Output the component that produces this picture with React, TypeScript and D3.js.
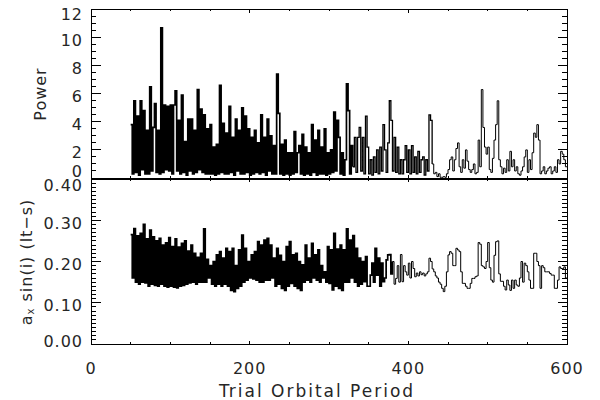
import React from 'react';
import * as d3 from 'd3';

// trial periods are on a regular grid: 50, 52, ... 598
const periodStart = 50;
const periodStep = 2;
const periodMax = 600;

// periodogram power, one value per trial period
const power = [
  3.8, 0.3, 5.5, 0.4, 4.4, 0.2, 5.5, 0.6, 4.8, 0.3,
  3.4, 0.3, 6.5, 0.5, 3.6, 5.3, 0.4, 3.4, 0.3, 10.7,
  0.4, 5.2, 0.6, 5.1, 0.5, 5.2, 0.3, 5.2, 6.2, 0.5,
  4.1, 0.3, 5.9, 0.4, 2.6, 0.2, 4.2, 0.5, 4.2, 0.3,
  3.4, 0.4, 6.3, 0.6, 4.9, 0.4, 4.5, 0.3, 3.5, 0.3,
  3.8, 0.3, 2.2, 0.2, 2.4, 0.3, 6.6, 0.4, 3.9, 0.3,
  3.2, 0.3, 5.1, 0.4, 2.9, 0.2, 4.2, 0.5, 3.4, 0.3,
  5.0, 0.3, 4.4, 0.4, 3.5, 0.2, 2.9, 0.3, 3.4, 0.4,
  2.5, 0.3, 4.5, 0.4, 2.9, 0.2, 4.2, 0.5, 3.0, 0.3,
  2.3, 0.3, 7.4, 4.6, 0.3, 2.4, 0.2, 2.7, 0.3, 1.8,
  0.2, 1.8, 0.3, 3.3, 0.4, 1.8, 2.3, 0.3, 3.1, 0.2,
  2.2, 0.3, 1.8, 0.2, 3.8, 0.4, 2.7, 0.2, 3.4, 0.3,
  2.2, 0.3, 3.5, 0.2, 1.8, 0.3, 2.0, 0.4, 4.7, 0.5,
  4.1, 2.9, 0.3, 1.8, 0.2, 1.3, 6.7, 4.8, 0.3, 2.3,
  0.8, 2.9, 0.4, 2.9, 3.6, 0.5, 2.9, 0.3, 4.4, 2.2,
  0.3, 1.3, 0.2, 1.5, 0.4, 2.0, 0.3, 2.2, 0.5, 3.8,
  2.0, 0.4, 2.5, 5.5, 4.1, 0.5, 2.9, 0.4, 2.2, 0.3,
  1.3, 0.3, 1.3, 2.3, 0.4, 2.0, 0.3, 2.3, 0.4, 1.5,
  0.3, 1.9, 0.4, 1.3, 1.5, 0.2, 1.3, 0.5, 4.5, 4.1,
  1.0, 0.3, 0.4, 0.1, 0.3, 0.05, 0.05, 0.1, 0.05, 0.3,
  0.6, 1.3, 1.5, 0.5, 1.3, 2.1, 2.5, 0.8, 0.4, 1.3,
  0.7, 2.0, 1.2, 0.6, 0.4, 0.6, 1.0, 0.3, 0.4, 2.7,
  0.8, 6.3, 3.6, 2.2, 1.7, 2.2, 0.6, 0.4, 1.4, 2.7,
  3.8, 5.5, 1.3, 0.8, 0.3, 0.7, 0.4, 1.3, 0.5, 1.9,
  0.8, 1.3, 0.5, 0.8, 0.3, 0.2, 0.5, 0.8, 1.5, 2.0,
  0.4, 1.3, 0.6, 1.8, 3.2, 2.9, 3.8, 2.7, 0.3, 0.5,
  0.8, 0.3, 0.5, 0.7, 0.8, 0.3, 0.5, 0.8, 0.4, 1.3, 1.0, 1.9, 1.7, 1.3, 0.8,
];

// projected semi-major axis a_x sin(i) in light-seconds
const semiAxis = [
  0.265, 0.16, 0.28, 0.15, 0.262, 0.145, 0.268, 0.15, 0.29, 0.148,
  0.255, 0.14, 0.276, 0.145, 0.26, 0.142, 0.25, 0.14, 0.256, 0.145,
  0.24, 0.14, 0.245, 0.138, 0.258, 0.14, 0.236, 0.138, 0.255, 0.136,
  0.235, 0.14, 0.244, 0.142, 0.25, 0.145, 0.225, 0.148, 0.24, 0.15,
  0.22, 0.145, 0.21, 0.15, 0.22, 0.15, 0.279, 0.15, 0.205, 0.16,
  0.19, 0.145, 0.2, 0.14, 0.216, 0.145, 0.224, 0.14, 0.208, 0.145,
  0.232, 0.14, 0.224, 0.13, 0.232, 0.127, 0.19, 0.135, 0.228, 0.14,
  0.264, 0.15, 0.232, 0.155, 0.2, 0.16, 0.216, 0.158, 0.224, 0.155,
  0.248, 0.15, 0.24, 0.15, 0.252, 0.155, 0.256, 0.155, 0.24, 0.16,
  0.208, 0.14, 0.232, 0.145, 0.215, 0.135, 0.2, 0.13, 0.236, 0.14,
  0.248, 0.147, 0.216, 0.14, 0.22, 0.135, 0.2, 0.13, 0.192, 0.15,
  0.24, 0.155, 0.208, 0.15, 0.244, 0.16, 0.216, 0.155, 0.228, 0.15,
  0.19, 0.16, 0.175, 0.15, 0.236, 0.147, 0.228, 0.131, 0.268, 0.14,
  0.23, 0.135, 0.24, 0.13, 0.228, 0.15, 0.279, 0.15, 0.252, 0.16,
  0.263, 0.15, 0.232, 0.14, 0.208, 0.145, 0.2, 0.151, 0.212, 0.14,
  0.14, 0.167, 0.196, 0.15, 0.232, 0.167, 0.208, 0.14, 0.196, 0.151,
  0.16, 0.204, 0.216, 0.217, 0.17, 0.2, 0.145, 0.159, 0.19, 0.15,
  0.217, 0.151, 0.19, 0.175, 0.167, 0.196, 0.16, 0.2, 0.183, 0.163,
  0.172, 0.165, 0.175, 0.168, 0.172, 0.165, 0.17, 0.175, 0.208, 0.2,
  0.182, 0.175, 0.165, 0.16, 0.15, 0.145, 0.135, 0.127, 0.14, 0.175,
  0.216, 0.224, 0.22, 0.19, 0.19, 0.232, 0.228, 0.224, 0.175, 0.147,
  0.147, 0.14, 0.135, 0.135, 0.147, 0.159, 0.159, 0.163, 0.165, 0.246,
  0.242, 0.19, 0.187, 0.183, 0.2, 0.246, 0.185, 0.155, 0.15, 0.215,
  0.248, 0.25, 0.17, 0.152, 0.152, 0.14, 0.131, 0.155, 0.143, 0.13,
  0.155, 0.135, 0.155, 0.143, 0.14, 0.16, 0.2, 0.15, 0.196, 0.19,
  0.175, 0.155, 0.135, 0.135, 0.22, 0.22, 0.2, 0.19, 0.135, 0.19,
  0.185, 0.175, 0.175, 0.175, 0.171, 0.167, 0.167, 0.135, 0.135, 0.155, 0.187, 0.183, 0.183, 0.187, 0.16,
];

const xTickLabels = [0, 200, 400, 600];
const powerTickLabels = [0, 2, 4, 6, 8, 10, 12];
const semiTickLabels = [0, 0.1, 0.2, 0.3, 0.4];

const W = 600;
const H = 400;
const left = 91;
const right = 567;
const font = "'DejaVu Sans', sans-serif";
const ink = '#262626';

const x = d3.scaleLinear().domain([0, 600]).range([left, right]);
const yPower = d3.scaleLinear().domain([0, 12]).range([178, 9.5]);
const ySemi = d3.scaleLinear().domain([0, 0.4]).range([344, 179]);

const periods = power.map((_, i) => periodStart + i * periodStep);

function stepPath(xs: number[], ys: number[], y: d3.ScaleLinear<number, number>) {
  const line = d3
    .line<number>()
    .x((_, i) => x(xs[i]))
    .y((d) => y(d))
    .curve(d3.curveStepAfter);
  return line(ys) || '';
}

type PanelProps = {
  y: d3.ScaleLinear<number, number>;
  major: number[];
  minorStep: number;
  format: (v: number) => string;
  values: number[];
  xLabels: boolean;
  labelInset: [number, number];
  // densely sampled short periods print as a solid band: heavier pen there
  pens: [number, number][];
};

function Panel({ y, major, minorStep, format, values, xLabels, labelInset, pens }: PanelProps) {
  const [y0, y1] = y.domain();
  const top = y(y1);
  const bottom = y(y0);
  const minor = d3.range(y0, y1 + minorStep / 2, minorStep);
  const xMinor = d3.range(0, 601, 50);
  const yLong = 9.5;
  const yShort = 4.8;
  const xLong = 3.4;
  const xShort = 1.8;

  const xs = [...periods, periodMax];
  const ys = [...values, values[values.length - 1]];
  let start = 0;
  const pieces = pens.map(([until, width]) => {
    let end = xs.findIndex((p) => p >= until);
    if (end < 0) end = xs.length - 1;
    const d = stepPath(xs.slice(start, end + 1), ys.slice(start, end + 1), y);
    start = end;
    return { d, width };
  });

  return (
    <g>
      {pieces.map((p, i) => (
        <path key={i} d={p.d} fill="none" stroke="#000" strokeWidth={p.width} />
      ))}
      <g stroke="#000" strokeWidth={1} shapeRendering="crispEdges">
        <rect x={left} y={top} width={right - left} height={bottom - top} fill="none" />
        {minor.map((v, i) => {
          const len = major.some((m) => Math.abs(m - v) < 1e-9) ? yLong : yShort;
          return (
            <g key={'y' + i}>
              <line x1={left} x2={left + len} y1={y(v)} y2={y(v)} />
              <line x1={right} x2={right - len} y1={y(v)} y2={y(v)} />
            </g>
          );
        })}
        {xMinor.map((v, i) => {
          const len = xTickLabels.includes(v) ? xLong : xShort;
          return (
            <g key={'x' + i}>
              <line x1={x(v)} x2={x(v)} y1={bottom} y2={bottom - len} />
              <line x1={x(v)} x2={x(v)} y1={top} y2={top + len} />
            </g>
          );
        })}
      </g>
      <g fontFamily={font} fontSize={16} letterSpacing={1} fill={ink}>
        {major.map((v) => {
          const cy = Math.min(bottom - labelInset[1], Math.max(top + labelInset[0], y(v) + 3));
          return (
            <text key={v} x={83} y={cy} textAnchor="end" dominantBaseline="central">
              {format(v)}
            </text>
          );
        })}
        {xLabels &&
          xTickLabels.map((v) => (
            <text key={v} x={x(v)} y={374} textAnchor="middle">
              {v}
            </text>
          ))}
      </g>
    </g>
  );
}

export default function App() {
  return (
    <svg
      width={W}
      height={H}
      viewBox={`0 0 ${W} ${H}`}
      style={{ position: 'absolute', left: 0, top: 0, background: '#fff' }}
    >
      <rect width={W} height={H} fill="#fff" />
      <Panel
        y={yPower}
        major={powerTickLabels}
        minorStep={0.5}
        format={(v) => String(v)}
        values={power}
        xLabels={false}
        labelInset={[5, 7]}
        pens={[[330, 1.7], [430, 1.3], [600, 1]]}
      />
      <Panel
        y={ySemi}
        major={semiTickLabels}
        minorStep={0.01}
        format={(v) => v.toFixed(2)}
        values={semiAxis}
        xLabels={true}
        labelInset={[6, 3]}
        pens={[[380, 1.7], [600, 1]]}
      />
      <g fontFamily={font} fontSize={16} letterSpacing={1} fill={ink}>
        <text transform="translate(40,94) rotate(-90)" textAnchor="middle" dominantBaseline="central">
          Power
        </text>
        <text transform="translate(26,262) rotate(-90)" textAnchor="middle" dominantBaseline="central">
          a<tspan dy={4} fontSize={10}>x</tspan>
          <tspan dy={-4}> sin(i)  (lt−s)</tspan>
        </text>
        <text x={317} y={397} textAnchor="middle" fontSize={17} letterSpacing={2}>
          Trial Orbital Period
        </text>
      </g>
    </svg>
  );
}
